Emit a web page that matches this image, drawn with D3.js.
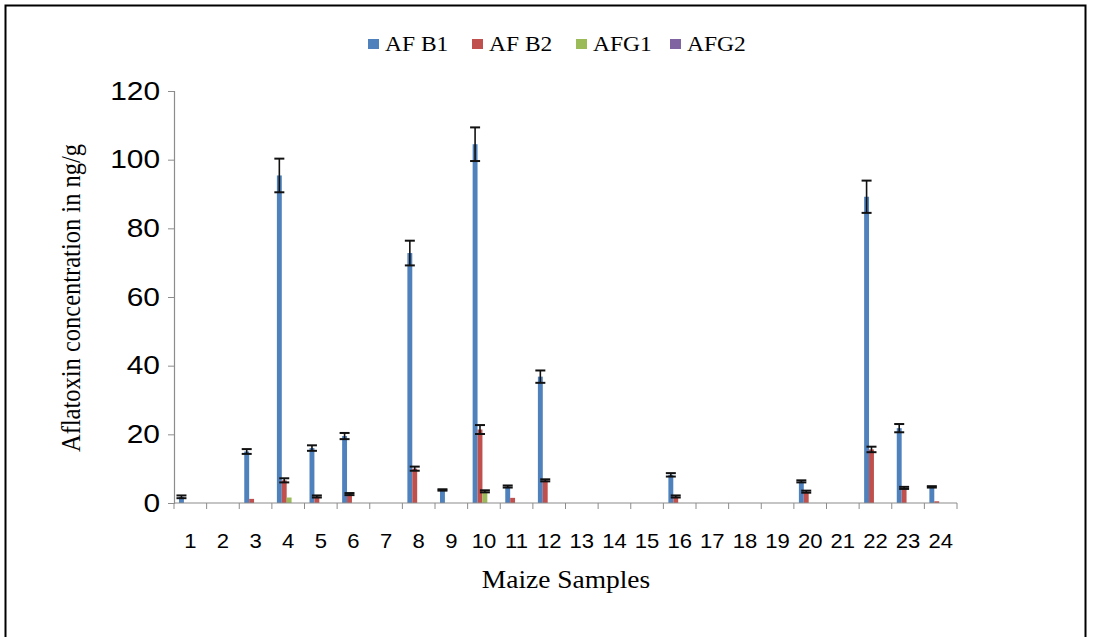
<!DOCTYPE html>
<html>
<head>
<meta charset="utf-8">
<script src="https://cdn.jsdelivr.net/npm/d3@7/dist/d3.min.js"></script>
<style>
  html, body { margin: 0; padding: 0; background: #fff; }
  svg { display: block; }
</style>
</head>
<body>
<svg id="chart" width="1093" height="637"></svg>
<script>
// Maize samples 1..24
const samples = ["1","2","3","4","5","6","7","8","9","10","11","12","13","14","15","16","17","18","19","20","21","22","23","24"];
const seriesNames = ["AF B1", "AF B2", "AFG1", "AFG2"];
const seriesColors = ["#4F81BD", "#C0504D", "#9BBB59", "#8064A2"];

// Mean aflatoxin concentration (ng/g)
const afb1 = [1.8, 0, 15.0, 95.4, 16.0, 19.5, 0, 72.8, 3.8, 104.5, 4.8, 36.8, 0, 0, 0, 8.2, 0, 0, 0, 6.3, 0, 89.2, 21.8, 4.7];
const afb2 = [0, 0, 1.2, 6.6, 1.9, 2.6, 0, 10.0, 0, 21.4, 1.5, 6.6, 0, 0, 0, 1.9, 0, 0, 0, 3.3, 0, 15.6, 4.4, 0.5];
const afg1 = [0, 0, 0, 1.6, 0, 0, 0, 0, 0, 3.4, 0, 0, 0, 0, 0, 0, 0, 0, 0, 0, 0, 0, 0, 0];
const afg2 = [0, 0, 0, 0, 0, 0, 0, 0, 0, 0, 0, 0, 0, 0, 0, 0, 0, 0, 0, 0, 0, 0, 0, 0];

// Standard deviation for each mean (null = no error bar)
const afb1Err = [0.4, null, 0.7, 4.9, 0.8, 0.9, null, 3.6, 0.2, 4.9, 0.3, 1.8, null, null, null, 0.5, null, null, null, 0.3, null, 4.7, 1.2, 0.2];
const afb2Err = [null, null, null, 0.6, 0.3, 0.3, null, 0.6, null, 1.3, null, 0.3, null, null, null, 0.3, null, null, null, 0.3, null, 0.8, 0.3, null];
const afg1Err = [null, null, null, null, null, null, null, null, null, 0.3, null, null, null, null, null, null, null, null, null, null, null, null, null, null];
const afg2Err = [null, null, null, null, null, null, null, null, null, null, null, null, null, null, null, null, null, null, null, null, null, null, null, null];

const yTicks = [0, 20, 40, 60, 80, 100, 120];

const values = [afb1, afb2, afg1, afg2];
const errors = [afb1Err, afb2Err, afg1Err, afg2Err];

const serif = "'Liberation Serif', 'Times New Roman', serif";
const sans = "'Liberation Sans', Arial, sans-serif";
const stretch = 1.12; // slightly wide lettering

const svg = d3.select("#chart");

// outer frame
svg.append("rect")
  .attr("x", 5.5).attr("y", 5.5)
  .attr("width", 1080).attr("height", 660)
  .attr("fill", "none").attr("stroke", "#000").attr("stroke-width", 2);

const plot = { left: 174, right: 957, top: 91, bottom: 503 };

const x0 = d3.scaleBand().domain(samples).range([plot.left, plot.right]).padding(0);
const barW = 4.9;
const x1 = d3.scaleBand().domain(seriesNames).range([0, barW * 4]).padding(0);
const groupOffset = (x0.bandwidth() - barW * 4) / 2 - 1.5;
const y = d3.scaleLinear().domain([0, 120]).range([plot.bottom, plot.top]);

// bars
const rows = [];
samples.forEach((s, i) => {
  seriesNames.forEach((n, k) => {
    rows.push({ s, n, k, v: values[k][i], e: errors[k][i] });
  });
});

const g = svg.append("g");
g.selectAll("rect.bar")
  .data(rows.filter(d => d.v > 0))
  .join("rect")
  .attr("class", "bar")
  .attr("x", d => x0(d.s) + groupOffset + x1(d.n))
  .attr("y", d => y(d.v))
  .attr("width", x1.bandwidth())
  .attr("height", d => y(0) - y(d.v))
  .attr("fill", d => seriesColors[d.k]);

// error bars
const eb = g.selectAll("g.err")
  .data(rows.filter(d => d.e != null))
  .join("g")
  .attr("class", "err")
  .attr("transform", d => `translate(${x0(d.s) + groupOffset + x1(d.n) + x1.bandwidth() / 2},0)`);
eb.append("line")
  .attr("x1", 0).attr("x2", 0)
  .attr("y1", d => y(d.v + d.e)).attr("y2", d => y(Math.max(0, d.v - d.e)))
  .attr("stroke", "#111").attr("stroke-width", 1.6);
eb.append("line")
  .attr("x1", -5).attr("x2", 5)
  .attr("y1", d => y(d.v + d.e)).attr("y2", d => y(d.v + d.e))
  .attr("stroke", "#111").attr("stroke-width", 2);
eb.append("line")
  .attr("x1", -5).attr("x2", 5)
  .attr("y1", d => y(Math.max(0, d.v - d.e))).attr("y2", d => y(Math.max(0, d.v - d.e)))
  .attr("stroke", "#111").attr("stroke-width", 2);

// y axis
const yAxis = d3.axisLeft(y).tickValues(yTicks).tickSize(6).tickPadding(0).tickFormat(d3.format("d"));
const ya = svg.append("g").attr("transform", `translate(${plot.left},0)`).call(yAxis);
ya.select(".domain").attr("stroke", "#8c8c8c").attr("stroke-width", 1.2);
ya.selectAll(".tick line").attr("stroke", "#8c8c8c");
ya.selectAll(".tick text")
  .attr("x", null)
  .attr("transform", `translate(-14,0) scale(1.15,1)`)
  .attr("font-family", sans)
  .attr("font-size", 26).attr("fill", "#000");

// x axis: ticks at category boundaries
const xa = svg.append("g").attr("transform", `translate(0,${plot.bottom})`);
xa.append("line")
  .attr("x1", plot.left).attr("x2", plot.right)
  .attr("y1", 0).attr("y2", 0)
  .attr("stroke", "#8c8c8c").attr("stroke-width", 1.2);
const bounds = samples.map(s => x0(s)).concat([plot.right]);
xa.selectAll("line.tk").data(bounds).join("line")
  .attr("class", "tk")
  .attr("x1", d => d).attr("x2", d => d)
  .attr("y1", 0).attr("y2", 6)
  .attr("stroke", "#8c8c8c");
xa.selectAll("text").data(samples).join("text")
  .attr("transform", d => `translate(${x0(d) + x0.bandwidth() / 2},45) scale(1.05,1)`)
  .attr("text-anchor", "middle")
  .attr("font-family", sans)
  .attr("font-size", 21)
  .text(d => d);

// axis titles
svg.append("text")
  .attr("transform", `translate(80,298) scale(${stretch},1) rotate(-90)`)
  .attr("text-anchor", "middle")
  .attr("font-family", serif)
  .attr("font-size", 24.5)
  .text("Aflatoxin concentration in ng/g");
svg.append("text")
  .attr("transform", `translate(566,588) scale(${stretch},1)`)
  .attr("text-anchor", "middle")
  .attr("font-family", serif)
  .attr("font-size", 24.5)
  .text("Maize Samples");

// legend
const legendX = [368, 472, 576, 670];
const lg = svg.append("g").selectAll("g").data(seriesNames).join("g")
  .attr("transform", (d, i) => `translate(${legendX[i]},44)`);
lg.append("rect")
  .attr("x", 0).attr("y", -5).attr("width", 11).attr("height", 10)
  .attr("fill", (d, i) => seriesColors[i]);
lg.append("text")
  .attr("transform", `translate(17,7) scale(${stretch},1)`)
  .attr("font-family", serif)
  .attr("font-size", 21)
  .text(d => d);
</script>
</body>
</html>
